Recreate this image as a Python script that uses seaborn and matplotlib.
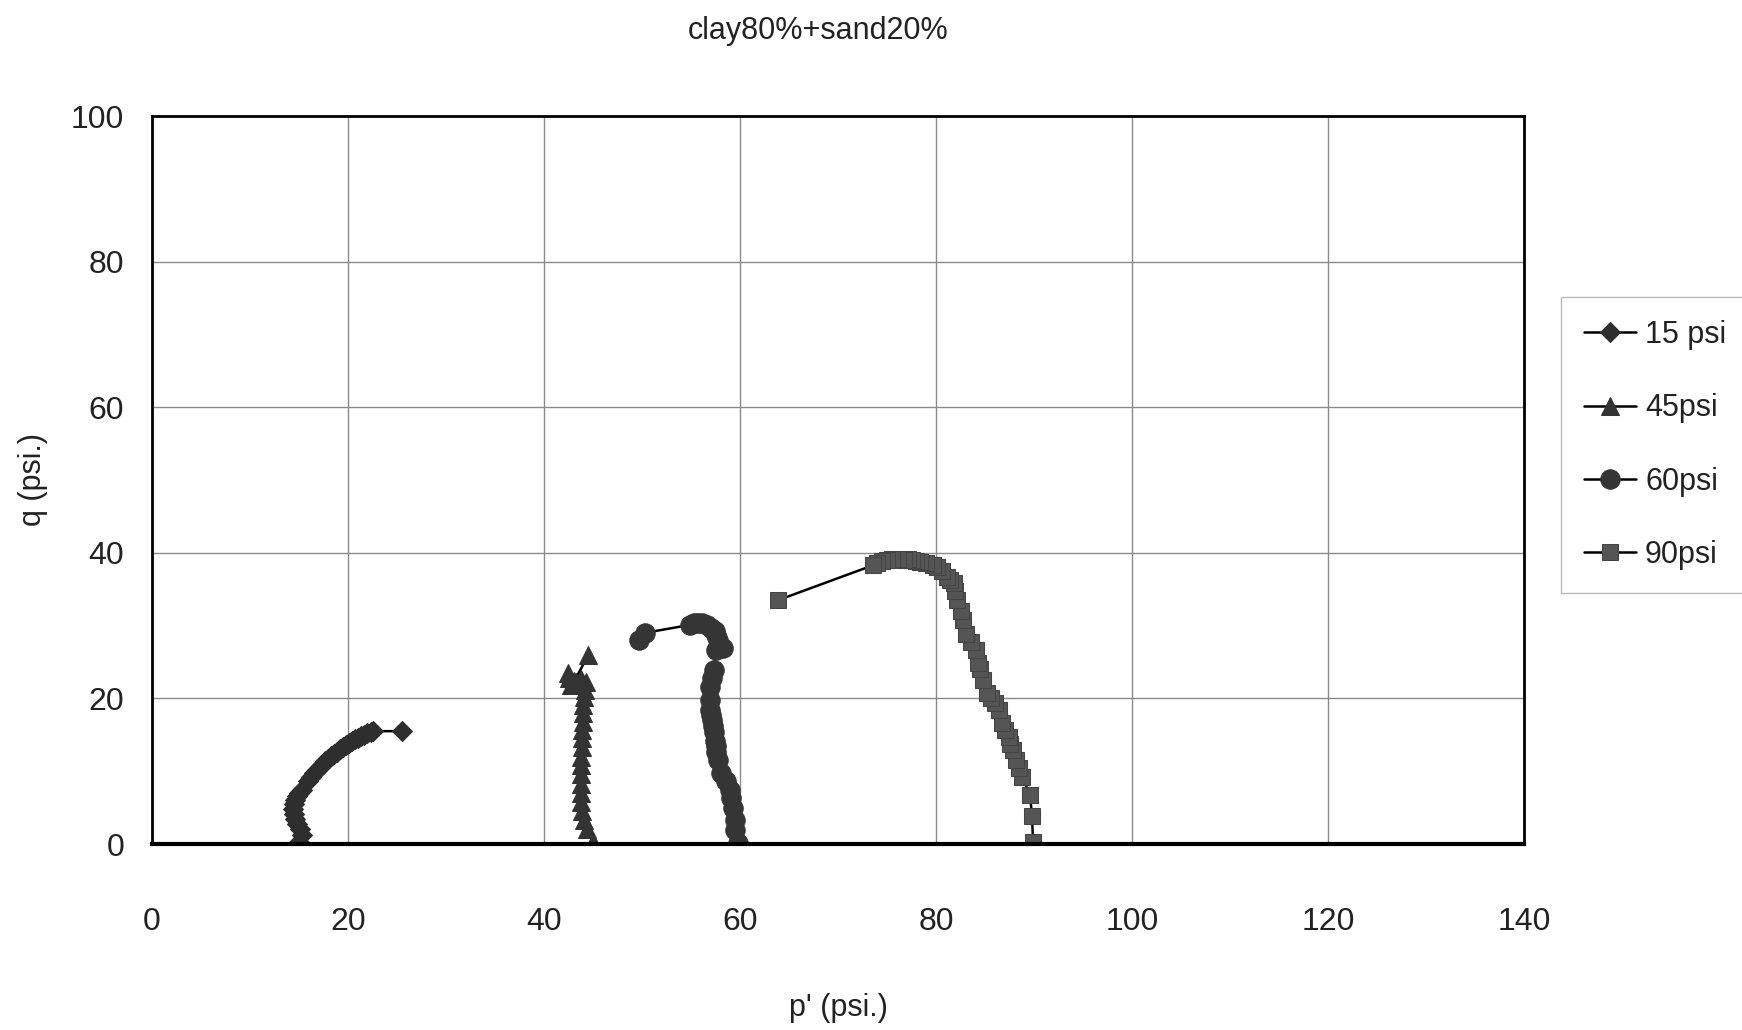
import matplotlib
matplotlib.use("Agg")
import matplotlib.pyplot as plt
import seaborn as sns
import pandas as pd

title = "clay80%+sand20%"
x_label = "p' (psi.)"
y_label = "q (psi.)"
series_names = ["15 psi", "45psi", "60psi", "90psi"]

p_15 = [15.0, 15.3, 15.1, 14.8, 14.6, 14.5, 14.4, 14.5, 14.6, 14.8, 15.0, 15.3, 15.9, 16.2,
        16.5, 16.8, 17.1, 17.4, 17.7, 18.0, 18.3, 18.6, 18.9, 19.2, 19.5, 19.8, 20.1,
        20.4, 20.7, 21.0, 21.3, 21.6, 21.9, 22.3, 22.6, 25.5]
q_15 = [0.3, 1.2, 2.0, 2.7, 3.4, 4.1, 4.8, 5.5, 6.1, 6.6, 7.0, 7.4, 8.7, 9.2,
        9.7, 10.1, 10.6, 11.0, 11.4, 11.7, 12.1, 12.4, 12.7, 13.0, 13.3, 13.6, 13.9,
        14.1, 14.4, 14.6, 14.8, 15.0, 15.2, 15.4, 15.5, 15.5]

p_45 = [45.0, 44.4, 44.1, 43.9, 43.8, 43.8, 43.8, 43.8, 43.8, 43.8, 43.9, 43.9, 43.9,
        44.0, 44.0, 44.0, 44.1, 44.2, 44.3, 43.8, 43.3, 42.8, 42.4, 42.6, 43.1, 44.5]
q_45 = [0.3, 2.0, 3.3, 4.6, 5.8, 7.0, 8.3, 9.6, 10.8, 12.0, 13.3, 14.5, 15.7,
        16.8, 18.0, 19.1, 20.2, 21.2, 22.2, 22.6, 22.3, 21.9, 23.5, 22.8, 22.4, 25.9]

p_60 = [59.8, 59.5, 59.5, 59.3, 59.1, 59.0, 58.6, 58.1, 57.8, 57.6, 57.5, 57.4, 57.3,
        57.2, 57.1, 57.0, 56.9, 56.9, 56.9, 57.1, 57.3, 57.6, 58.3, 57.8, 57.6, 57.4,
        57.0, 56.6, 56.1, 55.7, 55.3, 54.9, 50.3, 49.7]
q_60 = [0.2, 1.9, 3.3, 4.9, 6.3, 7.4, 8.6, 9.7, 11.5, 12.7, 13.4, 14.1, 15.4,
        16.2, 17.0, 17.7, 18.4, 19.8, 21.6, 22.8, 23.9, 26.6, 26.9, 28.0, 28.7, 29.2,
        29.7, 30.1, 30.3, 30.4, 30.3, 30.1, 29.0, 28.0]

p_90 = [89.9, 89.8, 89.6, 88.8, 88.5, 88.2, 87.9, 87.6, 87.4, 87.0, 86.7, 86.4, 86.0,
        85.6, 85.2, 84.8, 84.5, 84.3, 84.1, 83.6, 83.1, 82.8, 82.5, 82.1, 81.9, 81.8,
        81.4, 81.1, 80.6, 80.1, 79.7, 79.0, 78.4, 78.0, 77.5, 77.1, 76.7, 76.1, 75.5,
        75.0, 74.5, 74.0, 73.6, 63.9]
q_90 = [0.3, 3.8, 6.7, 9.2, 10.4, 11.5, 12.9, 13.8, 14.7, 15.6, 16.6, 18.4, 19.3,
        20.0, 20.7, 22.5, 24.1, 24.8, 26.6, 27.8, 28.9, 30.8, 32.0, 33.5, 34.7, 35.8,
        36.3, 36.7, 37.5, 38.1, 38.3, 38.6, 38.8, 38.9, 39.0, 39.1, 39.0, 39.2, 39.2,
        39.0, 38.9, 38.6, 38.3, 33.5]

x_ticks = [0, 20, 40, 60, 80, 100, 120, 140]
y_ticks = [0, 20, 40, 60, 80, 100]

sns.set_theme(style="white")
plt.rcParams["font.family"] = ["Liberation Sans", "DejaVu Sans"]

fig = plt.figure(figsize=(17.42, 10.30), dpi=100)
ax = fig.add_axes([152 / 1742, 186 / 1030, 1372 / 1742, 728 / 1030])

styles = [
    dict(marker="D", markersize=10, markerfacecolor="#2e2e2e", markeredgecolor="#2e2e2e"),
    dict(marker="^", markersize=13, markerfacecolor="#333333", markeredgecolor="#333333"),
    dict(marker="o", markersize=14, markerfacecolor="#353535", markeredgecolor="#353535"),
    dict(marker="s", markersize=11.5, markerfacecolor="#555555", markeredgecolor="#444444"),
]
data = [(p_15, q_15), (p_45, q_45), (p_60, q_60), (p_90, q_90)]

for name, (px, qy), st in zip(series_names, data, styles):
    df = pd.DataFrame({"p": px, "q": qy})
    sns.lineplot(data=df, x="p", y="q", sort=False, estimator=None, color="black",
                 linewidth=1.8, label=name, ax=ax, **st)

ax.set_xlim(0, 140)
ax.set_ylim(0, 100)
ax.set_xticks(x_ticks)
ax.set_yticks(y_ticks)
ax.grid(True, color="#8a8a8a", linewidth=1.0)
ax.set_axisbelow(True)
for side, spine in ax.spines.items():
    spine.set_visible(True)
    spine.set_color("black")
    spine.set_linewidth(2.0)
ax.spines["bottom"].set_linewidth(3.0)
ax.spines["bottom"].set_zorder(5)

ax.tick_params(axis="x", length=0, pad=45, labelsize=23, colors="#222222")
ax.tick_params(axis="y", length=0, pad=20, labelsize=23, colors="#222222")

ax.set_xlabel(x_label, fontsize=22, color="#222222")
ax.set_ylabel(y_label, fontsize=22, color="#222222")
ax.xaxis.set_label_coords(0.5, -0.205)
ax.yaxis.set_label_coords(-0.076, 0.5)

fig.text(818 / 1742, 1 - 31 / 1030, title, ha="center", va="center",
         fontsize=22, color="#222222")

leg = ax.legend(loc="upper left", bbox_to_anchor=(1561 / 1742, 1 - 297 / 1030),
                bbox_transform=fig.transFigure, fontsize=22, frameon=True,
                fancybox=False, edgecolor="#aaaaaa", handlelength=1.7,
                labelspacing=1.42, borderpad=0.75, handletextpad=0.3,
                borderaxespad=0)
leg.get_frame().set_linewidth(1.0)
for t in leg.get_texts():
    t.set_color("#222222")

fig.savefig("out.png", dpi=100)
